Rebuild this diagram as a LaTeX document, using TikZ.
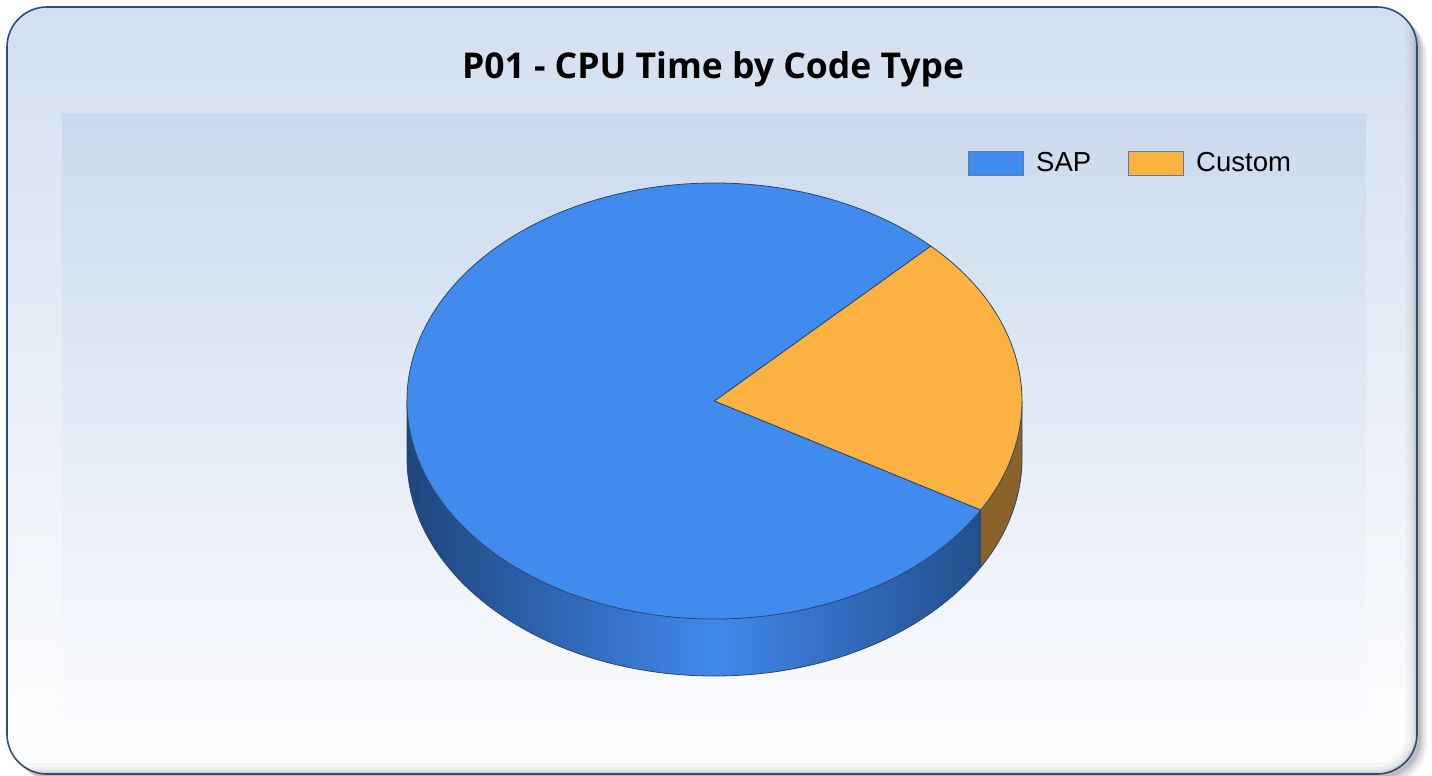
\documentclass[tikz,border=0pt]{standalone}
\usepackage{fontspec}
\setmainfont{Liberation Sans}
\newfontfamily\titlefont{Open Sans}
\definecolor{frameborder}{HTML}{2C4D7A}
\definecolor{frametop}{HTML}{D3DFF0}
\definecolor{framebot}{HTML}{FFFFFF}
\definecolor{innertop}{HTML}{CBDAED}
\definecolor{innerbot}{HTML}{FDFDFF}
\definecolor{sapblue}{HTML}{418BEE}
\definecolor{custorange}{HTML}{FBB240}
\definecolor{custside}{HTML}{8B6328}
\definecolor{sidedark}{HTML}{1F467C}
\definecolor{sidemid}{HTML}{3068B8}
\definecolor{sidebright}{HTML}{4189EA}
\definecolor{pieline}{HTML}{2A4670}
\definecolor{legborder}{HTML}{5D7DAA}
\pgfdeclarehorizontalshading{sapside}{100bp}{color(0bp)=(sidedark); color(25bp)=(sidedark); color(38bp)=(sidemid); color(50bp)=(sidebright); color(62bp)=(sidemid); color(75bp)=(sidedark); color(100bp)=(sidedark)}
\tikzset{
  outline/.style={draw=pieline, line width=0.8pt, line join=round},
  legkey/.style={draw=legborder, line width=0.8pt, minimum width=55pt, minimum height=24pt, inner sep=0pt},
  legtext/.style={anchor=base west, inner sep=0pt, font=\fontsize{27.5}{31}\selectfont},
}
\begin{document}
\begin{tikzpicture}[x=1pt,y=-1pt]
\useasboundingbox (0,0) rectangle (1432,776);
% outer shadow
\foreach \d/\op in {10/0.05,8/0.06,6/0.08,4/0.10}
  \fill[black,opacity=\op,rounded corners=40pt] (7+\d,7+\d) rectangle (1417+\d,774+\d);
% frame
\path[rounded corners=40pt, top color=frametop, bottom color=framebot] (7,7) rectangle (1417,774);
% inner shadow near right and bottom edges
\begin{scope}
  \clip[rounded corners=40pt] (7,7) rectangle (1417,774);
  \foreach \w/\op in {22/0.03,14/0.04,8/0.05,4/0.07}
    \draw[black,opacity=\op,line width=\w pt,rounded corners=40pt] (-20,-20) rectangle (1417,774);
\end{scope}
% inner plot area
\fill[top color=innertop, bottom color=innerbot] (62,113) rectangle (1366,745);
\draw[frameborder, line width=1.6pt, rounded corners=40pt] (7,7) rectangle (1417,774);
% title
\node[anchor=base, inner sep=0pt, font=\titlefont\bfseries\fontsize{35.5}{40}\selectfont] (title) at (713,78) {P01 - CPU Time by Code Type};
% legend
\node[legkey, fill=sapblue] (ksap) at (995.5,163) {};
\node[legtext] (tsap) at (1036,171) {SAP};
\node[legkey, fill=custorange] (kcust) at (1155.5,163) {};
\node[legtext] (tcust) at (1196,171) {Custom};
% pie
\def\cx{714.5}\def\cy{401}\def\rx{307.5}\def\ry{218}\def\dep{57}
\def\aone{-45.3}\def\atwo{30}
\pgfmathsetmacro\pax{\cx+\rx*cos(\aone)}\pgfmathsetmacro\pay{\cy+\ry*sin(\aone)}
\pgfmathsetmacro\pbx{\cx+\rx*cos(\atwo)}\pgfmathsetmacro\pby{\cy+\ry*sin(\atwo)}
\coordinate (pc) at (\cx,\cy);
\coordinate (pa) at (\pax,\pay);
\coordinate (pb) at (\pbx,\pby);
\coordinate (pr) at (\cx+\rx,\cy);
\coordinate (pl) at (\cx-\rx,\cy);
% SAP side
\path[shading=sapside] (pr) arc[start angle=0,end angle=180,x radius=\rx,y radius=\ry] -- ++(0,\dep) arc[start angle=180,end angle=0,x radius=\rx,y radius=\ry] -- cycle;
% Custom side
\path[fill=custside] (pr) arc[start angle=0,end angle=\atwo,x radius=\rx,y radius=\ry] -- ++(0,\dep) arc[start angle=\atwo,end angle=0,x radius=\rx,y radius=\ry] -- cycle;
\draw[outline] (pr) -- ++(0,\dep) arc[start angle=0,end angle=180,x radius=\rx,y radius=\ry] -- (pl);
\draw[outline] (pb) -- ++(0,\dep);
% tops
\path[fill=sapblue, outline] (pc) -- (pb) arc[start angle=\atwo,end angle=360+\aone,x radius=\rx,y radius=\ry] -- cycle;
\path[fill=custorange, outline] (pc) -- (pa) arc[start angle=\aone,end angle=\atwo,x radius=\rx,y radius=\ry] -- cycle;
\end{tikzpicture}
\end{document}
